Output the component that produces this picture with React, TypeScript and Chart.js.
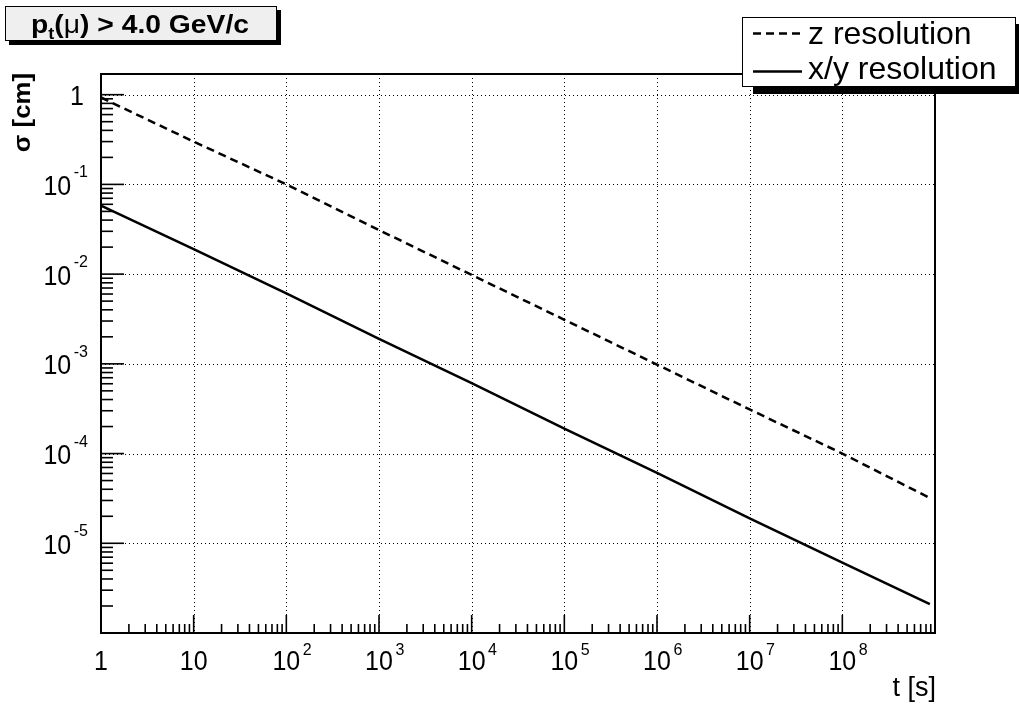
import React, { useEffect, useRef } from "react";
import { Chart, registerables } from "chart.js";

Chart.register(...registerables);

// ---- data ----
const timeValues = [1, 10, 100, 1e3, 1e4, 1e5, 1e6, 1e7, 1e8, 8.8e8];
const zResolution = [0.93, 0.3, 0.1, 0.031, 0.0098, 0.0031, 0.00098, 0.00031, 0.0001, 0.000032];
const xyResolution = [0.058, 0.019, 0.0061, 0.0019, 0.00061, 0.00019, 0.000061, 0.000019, 0.0000061, 0.0000021];
const seriesNames = ["z resolution", "x/y resolution"];

const xMajorTicks = [1, 10, 100, 1e3, 1e4, 1e5, 1e6, 1e7, 1e8];
const xTickBases = ["1", "10", "10", "10", "10", "10", "10", "10", "10"];
const xTickExponents = ["", "", "2", "3", "4", "5", "6", "7", "8"];
const yMajorTicks = [1, 0.1, 0.01, 1e-3, 1e-4, 1e-5];
const yTickBases = ["1", "10", "10", "10", "10", "10"];
const yTickExponents = ["", "-1", "-2", "-3", "-4", "-5"];
const xRange = [1, 1e9];
const yRange = [1e-6, 1.7];
const xTitle = "t [s]";
const yTitle = "σ [cm]";

const FONT = "'Liberation Sans', Arial, Helvetica, sans-serif";

function drawText(
  ctx: CanvasRenderingContext2D,
  text: string,
  x: number,
  y: number,
  font: string,
  align: CanvasTextAlign = "left",
  sx = 1,
  sy = 1
) {
  ctx.save();
  ctx.translate(x, y);
  ctx.scale(sx, sy);
  ctx.font = font;
  ctx.textAlign = align;
  ctx.textBaseline = "alphabetic";
  ctx.fillStyle = "#000";
  ctx.fillText(text, 0, 0);
  ctx.restore();
}

function measure(ctx: CanvasRenderingContext2D, text: string, font: string) {
  ctx.save();
  ctx.font = font;
  const w = ctx.measureText(text).width;
  ctx.restore();
  return w;
}

function minorTicks(lo: number, hi: number): number[] {
  const out: number[] = [];
  const d0 = Math.floor(Math.log10(lo));
  const d1 = Math.ceil(Math.log10(hi));
  for (let d = d0; d <= d1; d++) {
    for (let m = 2; m <= 9; m++) {
      const v = m * Math.pow(10, d);
      if (v > lo && v < hi) out.push(v);
    }
  }
  return out;
}

const rootPlugin = {
  id: "rootStyle",
  beforeDatasetsDraw(chart: any) {
    const { ctx, chartArea: a, scales } = chart;
    const xs = scales.x;
    const ys = scales.y;
    ctx.save();
    ctx.strokeStyle = "#000";
    ctx.lineWidth = 1;
    ctx.setLineDash([1, 3]);
    for (const v of xMajorTicks) {
      const px = Math.round(xs.getPixelForValue(v)) + 0.5;
      if (px <= a.left + 2 || px >= a.right - 2) continue;
      ctx.beginPath();
      ctx.moveTo(px, a.top);
      ctx.lineTo(px, a.bottom);
      ctx.stroke();
    }
    for (const v of yMajorTicks) {
      const py = Math.round(ys.getPixelForValue(v)) + 0.5;
      if (py <= a.top + 2 || py >= a.bottom - 2) continue;
      ctx.beginPath();
      ctx.moveTo(a.left, py);
      ctx.lineTo(a.right, py);
      ctx.stroke();
    }
    ctx.restore();
  },
  afterDraw(chart: any) {
    const { ctx, chartArea: a, scales } = chart;
    const xs = scales.x;
    const ys = scales.y;
    ctx.save();
    ctx.setLineDash([]);
    ctx.strokeStyle = "#000";

    // ticks
    ctx.lineWidth = 1.6;
    const xMinor = minorTicks(xRange[0], xRange[1]);
    for (const v of xMinor) {
      const px = xs.getPixelForValue(v);
      ctx.beginPath();
      ctx.moveTo(px, a.bottom);
      ctx.lineTo(px, a.bottom - 9);
      ctx.stroke();
    }
    for (const v of xMajorTicks) {
      const px = xs.getPixelForValue(v);
      ctx.beginPath();
      ctx.moveTo(px, a.bottom);
      ctx.lineTo(px, a.bottom - 18);
      ctx.stroke();
    }
    const yMinor = minorTicks(yRange[0], yRange[1]);
    for (const v of yMinor) {
      const py = ys.getPixelForValue(v);
      ctx.beginPath();
      ctx.moveTo(a.left, py);
      ctx.lineTo(a.left + 12, py);
      ctx.stroke();
    }
    for (const v of yMajorTicks) {
      const py = ys.getPixelForValue(v);
      ctx.beginPath();
      ctx.moveTo(a.left, py);
      ctx.lineTo(a.left + 23, py);
      ctx.stroke();
    }

    // frame
    ctx.lineWidth = 2;
    ctx.strokeRect(a.left, a.top, a.right - a.left, a.bottom - a.top);

    // tick labels
    const baseFont = `25px ${FONT}`;
    const expFont = `16px ${FONT}`;
    const SY = 1.1;
    xMajorTicks.forEach((v, i) => {
      const px = xs.getPixelForValue(v);
      const base = xTickBases[i];
      const exp = xTickExponents[i];
      const bw = measure(ctx, base, baseFont);
      drawText(ctx, base, px, a.bottom + 37, baseFont, "center", 1, SY);
      if (exp) drawText(ctx, exp, px + bw / 2 + 2.5, a.bottom + 22, expFont, "left", 1, 1);
    });
    yMajorTicks.forEach((v, i) => {
      const py = ys.getPixelForValue(v);
      const base = yTickBases[i];
      const exp = yTickExponents[i];
      if (!exp) {
        drawText(ctx, base, 84, py + 10.5, baseFont, "right", 1, SY);
      } else {
        const ew = measure(ctx, exp, expFont);
        drawText(ctx, exp, 88, py - 7, expFont, "right", 1, 1);
        drawText(ctx, base, 88 - ew - 2.5, py + 10.5, baseFont, "right", 1, SY);
      }
    });

    // axis titles
    drawText(ctx, xTitle, a.right + 1, 696, `27px ${FONT}`, "right");
    ctx.save();
    ctx.translate(30, a.top - 1);
    ctx.rotate(-Math.PI / 2);
    ctx.scale(1.12, 1);
    ctx.font = `bold 23px ${FONT}`;
    ctx.textAlign = "right";
    ctx.fillStyle = "#000";
    ctx.fillText(yTitle, 0, 0);
    ctx.restore();

    // title box
    ctx.fillStyle = "#000";
    ctx.fillRect(9, 10, 272, 35);
    ctx.fillStyle = "#efefef";
    ctx.fillRect(5, 6, 272, 35);
    ctx.lineWidth = 1;
    ctx.strokeStyle = "#000";
    ctx.strokeRect(5.5, 6.5, 271, 34);
    const runs = [
      { t: "p", f: `bold 25px ${FONT}`, dy: 0 },
      { t: "t", f: `bold 16px ${FONT}`, dy: 6 },
      { t: "(", f: `bold 25px ${FONT}`, dy: 0 },
      { t: "μ", f: `25px ${FONT}`, dy: 0 },
      { t: ") > 4.0 GeV/c", f: `bold 25px ${FONT}`, dy: 0 },
    ];
    ctx.save();
    ctx.font = runs[0].f;
    let total = 0;
    for (const r of runs) {
      ctx.font = r.f;
      total += ctx.measureText(r.t).width;
    }
    ctx.translate(31, 33);
    ctx.scale(218 / total, 1);
    let cx = 0;
    for (const r of runs) {
      ctx.font = r.f;
      ctx.fillStyle = "#000";
      ctx.textAlign = "left";
      ctx.textBaseline = "alphabetic";
      ctx.fillText(r.t, cx, r.dy);
      cx += ctx.measureText(r.t).width;
    }
    ctx.restore();

    // legend
    ctx.fillStyle = "#000";
    ctx.fillRect(753, 24, 280, 70);
    ctx.fillStyle = "#fff";
    ctx.fillRect(742, 17, 274, 70);
    ctx.lineWidth = 1;
    ctx.strokeRect(742.5, 17.5, 273, 69);
    ctx.lineWidth = 2.5;
    ctx.setLineDash([8, 5]);
    ctx.beginPath();
    ctx.moveTo(753, 33.5);
    ctx.lineTo(802, 33.5);
    ctx.stroke();
    ctx.setLineDash([]);
    ctx.beginPath();
    ctx.moveTo(753, 71.5);
    ctx.lineTo(802, 71.5);
    ctx.stroke();
    drawText(ctx, seriesNames[0], 808, 43.5, `32px ${FONT}`, "left");
    drawText(ctx, seriesNames[1], 808, 79, `32px ${FONT}`, "left");

    ctx.restore();
  },
};

export default function App() {
  const ref = useRef<HTMLCanvasElement | null>(null);
  useEffect(() => {
    if (!ref.current) return;
    const chart = new Chart(ref.current, {
      type: "line",
      data: {
        datasets: [
          {
            label: seriesNames[0],
            data: timeValues.map((t, i) => ({ x: t, y: zResolution[i] })),
            borderColor: "#000",
            borderWidth: 2.5,
            borderDash: [8, 5],
            pointRadius: 0,
            fill: false,
            tension: 0,
          },
          {
            label: seriesNames[1],
            data: timeValues.map((t, i) => ({ x: t, y: xyResolution[i] })),
            borderColor: "#000",
            borderWidth: 2.5,
            pointRadius: 0,
            fill: false,
            tension: 0,
          },
        ],
      },
      options: {
        responsive: false,
        animation: false,
        devicePixelRatio: 1,
        events: [],
        layout: { padding: { left: 101, top: 74, right: 84, bottom: 74 } },
        plugins: {
          legend: { display: false },
          tooltip: { enabled: false },
          title: { display: false },
        },
        scales: {
          x: { type: "logarithmic", min: xRange[0], max: xRange[1], display: false },
          y: { type: "logarithmic", min: yRange[0], max: yRange[1], display: false },
        },
      },
      plugins: [rootPlugin],
    } as any);
    return () => chart.destroy();
  }, []);
  return (
    <canvas
      ref={ref}
      width={1019}
      height={707}
      style={{ position: "absolute", left: 0, top: 0, width: 1019, height: 707, background: "#fff" }}
    />
  );
}
